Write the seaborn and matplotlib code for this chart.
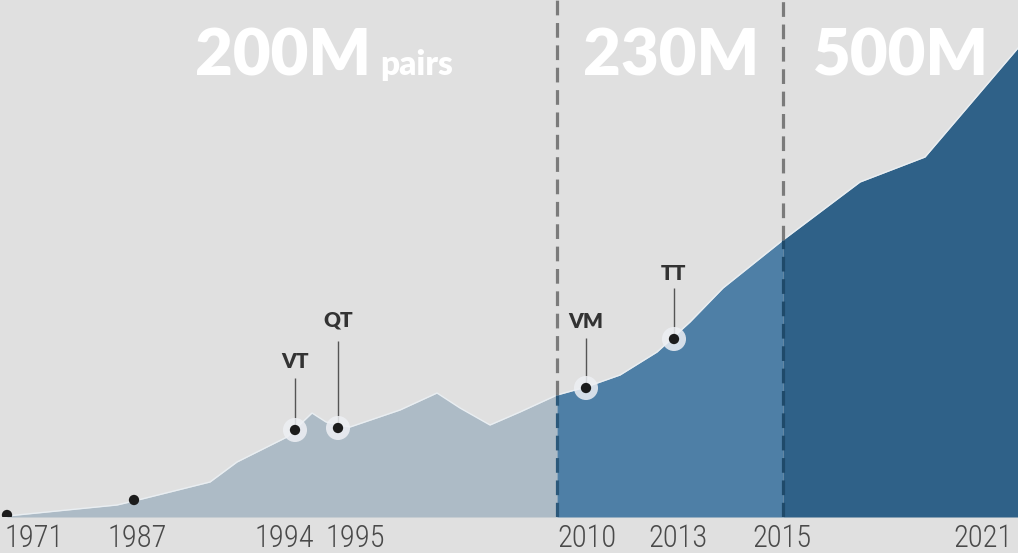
import numpy as np
import pandas as pd
from matplotlib import pyplot as plt
from matplotlib import font_manager
import seaborn as sns

sns.set_theme(style='white')

# timeline position (chart units) and height of the filled profile
timeline = [7, 117, 134, 210, 237, 287, 312, 326, 350, 400, 437, 460, 490, 520,
            557, 586, 620, 657, 690, 723, 783, 860, 925, 1018]
height = [1, 12, 16, 35, 55, 80, 104, 95, 90, 107, 124, 109, 92, 105,
          122, 130, 142, 165, 195, 229, 277, 335, 360, 469]

# era boundaries and headline labels
era_bounds = [557, 783]
era_labels = ['200M', '230M', '500M']
era_label_x = [283, 671, 901]
era_colors = ['#adbbc6', '#4e7fa6', '#2f6188']

# milestones
milestone_names = ['', '', 'VT', 'QT', 'VM', 'TT']
milestone_x = [7, 134, 295, 338, 586, 674]
milestone_y = [2, 17, 87, 89, 129, 178]
milestone_halo = [False, False, True, True, True, True]
stem_top = [None, None, 139, 176, 179, 229]
name_y = [None, None, 155, 197, 195, 244]

# year ticks
year_labels = ['1971', '1987', '1994', '1995', '2010', '2013', '2015', '2021']
year_pos = [5, 137, 284, 355, 587, 678, 782, 1013]
year_align = ['left', 'center', 'center', 'center', 'center', 'center', 'center', 'right']

bg = '#e0e0e0'
W, H = 1018, 553
base_px = 517

# pick a narrow face for the years if one is around
fonts = font_manager.fontManager.ttflist
names = {f.name for f in fonts}
year_kw = dict(family='Roboto', fontsize=20, fontweight='light')
if 'Roboto Condensed' in names:
    year_kw = dict(family='Roboto Condensed', fontsize=22, fontweight='light')
elif 'Liberation Sans Narrow' in names:
    year_kw = dict(family='Liberation Sans Narrow', fontsize=21)
elif any(f.name == 'DejaVu Sans' and f.stretch == 'condensed' for f in fonts):
    year_kw = dict(family='DejaVu Sans', fontstretch='condensed', fontsize=20,
                   fontweight='light')
head_font = 'Lato'

df = pd.DataFrame({'t': timeline, 'h': height})

fig = plt.figure(figsize=(W / 100, H / 100), dpi=100, facecolor=bg)
ax = fig.add_axes([0, (H - base_px) / H, 1, base_px / H])
ax.set_facecolor(bg)
ax.set_xlim(0, W)
ax.set_ylim(0, base_px)

# filled eras
edges = [timeline[0]] + era_bounds + [timeline[-1]]
for i, col in enumerate(era_colors):
    seg = df[(df.t >= edges[i]) & (df.t <= edges[i + 1])]
    ax.fill_between(seg.t, 0, seg.h, color=col, lw=0, zorder=1)
sns.lineplot(data=df, x='t', y='h', color='#e9eef2', lw=1, ax=ax, zorder=2,
             legend=False)

# dashed era separators
dash_in = ['#2b587a', '#1f4a6a']
for b, c in zip(era_bounds, dash_in):
    hb = np.interp(b, timeline, height)
    ax.vlines(b, hb, base_px, color='#7b7b7b', lw=2.3, linestyles=(0, (4.6, 2.4)),
              zorder=3)
    ax.vlines(b, 0, hb, color=c, lw=2.3, linestyles=(0, (4.6, 2.4)), zorder=3)

# headline labels
for lab, x in zip(era_labels, era_label_x):
    ax.text(x, base_px - 75, lab, ha='center', va='baseline', color='white',
            fontsize=47, fontweight='heavy', family=head_font, zorder=4)
ax.text(380, base_px - 75, 'pairs', ha='left', va='baseline', color='white',
        fontsize=24, fontweight='heavy', family=head_font, zorder=4)

# milestones
ms = pd.DataFrame({'x': milestone_x, 'y': milestone_y, 'halo': milestone_halo})
sns.scatterplot(data=ms[ms.halo], x='x', y='y', s=300, color='#eef0f4',
                alpha=0.85, edgecolor='none', ax=ax, zorder=5, legend=False)
sns.scatterplot(data=ms, x='x', y='y', s=55, color='#1c1c1c', edgecolor='none',
                ax=ax, zorder=6, legend=False)
for name, x, y, top, ny in zip(milestone_names, milestone_x, milestone_y,
                               stem_top, name_y):
    if not name:
        continue
    ax.vlines(x, y, top, color='#555555', lw=1, zorder=4)
    ax.text(x, ny, name, ha='center', va='center', color='#333333',
            fontsize=15, fontweight='heavy', family=head_font, zorder=6)

ax.set_xticks(year_pos)
ax.set_xticklabels(year_labels, color='#4a4a4a', **year_kw)
for lab, ha in zip(ax.get_xticklabels(), year_align):
    lab.set_horizontalalignment(ha)
ax.tick_params(axis='x', length=0, pad=5)
ax.set_yticks([])
ax.set_xlabel('')
ax.set_ylabel('')
for s in ax.spines.values():
    s.set_visible(False)

fig.savefig('out.png', dpi=100, facecolor=bg)
